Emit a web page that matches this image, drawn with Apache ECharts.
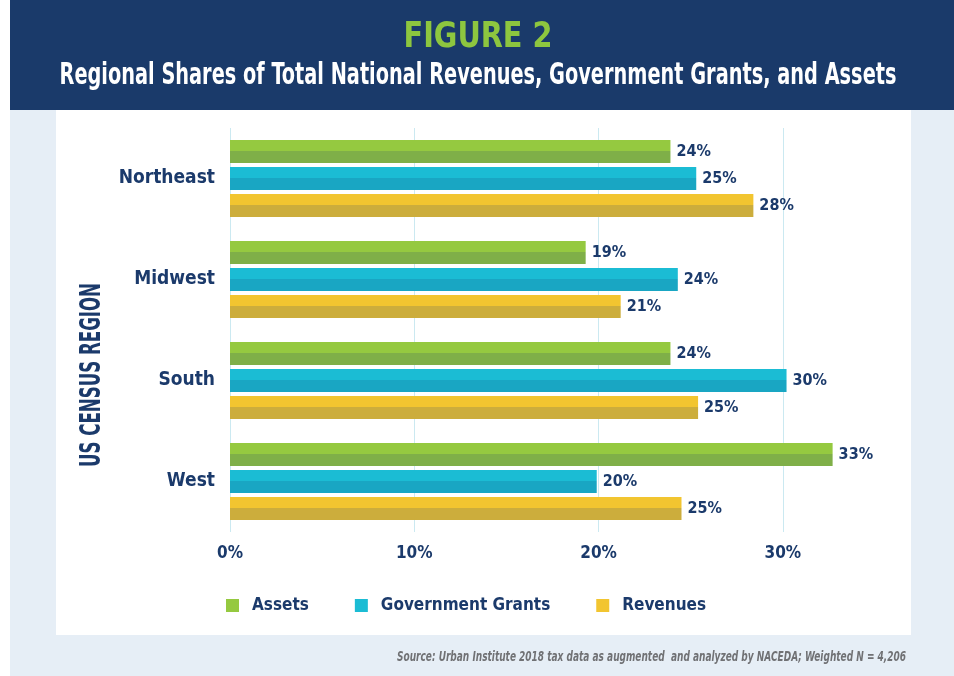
<!DOCTYPE html>
<html>
<head>
<meta charset="utf-8">
<script src="https://cdn.jsdelivr.net/npm/echarts@6/dist/echarts.min.js"></script>
<style>
html,body{margin:0;padding:0;background:#fff;}
#chart{width:954px;height:676px;}
</style>
</head>
<body>
<div id="chart"></div>
<script>
// ---- data ----
const regions = ['Northeast', 'Midwest', 'South', 'West'];
const seriesNames = ['Assets', 'Government Grants', 'Revenues'];
const assets = [23.9, 19.3, 23.9, 32.7];
const grants = [25.3, 24.3, 30.2, 19.9];
const revenues = [28.4, 21.2, 25.4, 24.5];
const xTicks = [0, 10, 20, 30];

const figTitle = 'FIGURE 2';
const subTitle = 'Regional Shares of Total National Revenues, Government Grants, and Assets';
const yName = 'US CENSUS REGION';
const sourceText = 'Source: Urban Institute 2018 tax data as augmented  and analyzed by NACEDA; Weighted N = 4,206';

// ---- styles ----
const FONT = '"DejaVu Sans Condensed", "Liberation Sans Narrow", "Liberation Sans", sans-serif';
const NAVY = '#1b3a6b';
const colors = [
  ['#95c940', '#7faf48'],
  ['#1bbcd4', '#19a6c3'],
  ['#f2c530', '#ccad3c']
];

function grad(c) {
  return new echarts.graphic.LinearGradient(0, 0, 0, 1, [
    {offset: 0, color: c[0]}, {offset: 0.48, color: c[0]},
    {offset: 0.48, color: c[1]}, {offset: 1, color: c[1]}
  ]);
}

const measureCtx = document.createElement('canvas').getContext('2d');
function fitScale(text, font, target) {
  measureCtx.font = font;
  const w = measureCtx.measureText(text).width;
  return w > 0 ? target / w : 1;
}

const chart = echarts.init(document.getElementById('chart'), null, {renderer: 'canvas'});

const values = [assets, grants, revenues];
const series = seriesNames.map((name, i) => ({
  name: name,
  type: 'bar',
  data: values[i],
  barWidth: 23,
  barGap: '17%',
  itemStyle: {color: grad(colors[i])},
  label: {
    show: true,
    position: 'right',
    distance: 6,
    formatter: p => Math.round(p.value) + '%',
    color: NAVY,
    fontFamily: FONT,
    fontWeight: 'bold',
    fontSize: 16
  },
  emphasis: {disabled: true}
}));

const titleFont = 'bold 36px ' + FONT;
const subFont = 'bold 30px ' + FONT;
const yNameFont = 'bold 28px ' + FONT;
const srcFont = 'italic bold 14px ' + FONT;

chart.setOption({
  animation: false,
  backgroundColor: '#ffffff',
  graphic: [
    {type: 'rect', z: -10, shape: {x: 10, y: 0, width: 944, height: 110}, style: {fill: '#1a3a6a'}},
    {type: 'rect', z: -10, shape: {x: 10, y: 110, width: 944, height: 566}, style: {fill: '#e6eef6'}},
    {type: 'rect', z: -9, shape: {x: 56, y: 110, width: 855, height: 525}, style: {fill: '#ffffff'}},
    {type: 'text', x: 478, y: 38, scaleX: fitScale(figTitle, titleFont, 149),
      style: {text: figTitle, font: titleFont, fill: '#8dc63f', textAlign: 'center', textVerticalAlign: 'middle'}},
    {type: 'text', x: 478, y: 76, scaleX: fitScale(subTitle, subFont, 837),
      style: {text: subTitle, font: subFont, fill: '#ffffff', textAlign: 'center', textVerticalAlign: 'middle'}},
    {type: 'text', x: 93, y: 375, rotation: Math.PI / 2, scaleX: fitScale(yName, yNameFont, 184),
      style: {text: yName, font: yNameFont, fill: NAVY, textAlign: 'center', textVerticalAlign: 'middle'}},
    {type: 'text', x: 906, y: 657, scaleX: fitScale(sourceText, srcFont, 509),
      style: {text: sourceText, font: srcFont, fill: '#707174', textAlign: 'right', textVerticalAlign: 'middle'}}
  ],
  grid: {left: 230, right: 79, top: 128, height: 404, containLabel: false},
  xAxis: {
    type: 'value',
    min: 0,
    max: 35,
    interval: 10,
    axisLine: {show: false},
    axisTick: {show: false},
    splitLine: {show: true, showMaxLine: false, lineStyle: {color: '#cbe9f1', width: 1}},
    axisLabel: {
      margin: 13,
      showMaxLabel: false,
      formatter: v => (xTicks.indexOf(v) >= 0 ? v + '%' : ''),
      color: NAVY,
      fontFamily: FONT,
      fontWeight: 'bold',
      fontSize: 17
    }
  },
  yAxis: {
    type: 'category',
    data: regions,
    inverse: true,
    axisLine: {show: false},
    axisTick: {show: false},
    axisLabel: {
      margin: 15,
      color: NAVY,
      fontFamily: FONT,
      fontWeight: 'bold',
      fontSize: 19
    }
  },
  legend: {
    data: seriesNames.map((n, i) => ({name: n, itemStyle: {color: colors[i][0]}})),
    left: 221,
    top: 592,
    icon: 'rect',
    itemWidth: 13,
    itemHeight: 13,
    itemGap: 46,
    selectedMode: false,
    textStyle: {
      color: NAVY,
      fontFamily: FONT,
      fontWeight: 'bold',
      fontSize: 17,
      padding: [0, 0, 0, 8]
    }
  },
  series: series
});
</script>
</body>
</html>
